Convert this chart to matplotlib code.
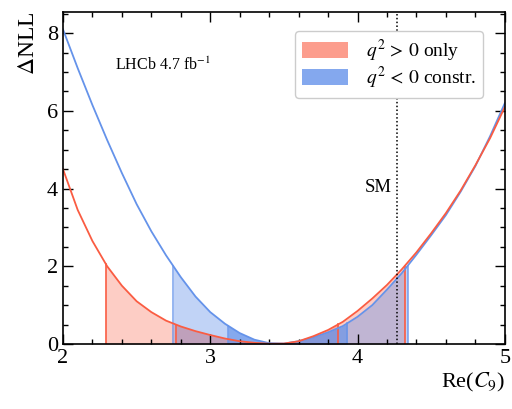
import numpy as np
import matplotlib
matplotlib.use("Agg")
import matplotlib.pyplot as plt
from matplotlib.patches import Patch
from matplotlib.ticker import MultipleLocator

# Re(C9) sample points
c9 = [2.0, 2.1, 2.2, 2.3, 2.4, 2.5, 2.6, 2.7, 2.8, 2.9, 3.0, 3.1, 3.2, 3.3, 3.4,
      3.5, 3.6, 3.7, 3.8, 3.9, 4.0, 4.1, 4.2, 4.3, 4.4, 4.5, 4.6, 4.7, 4.8, 4.9, 5.0]
# Delta NLL, q^2 > 0 only
nll_red = [4.5, 3.45, 2.65, 2.0, 1.5, 1.1, 0.82, 0.6, 0.45, 0.33, 0.23, 0.14, 0.07, 0.03, 0.005,
           0.01, 0.07, 0.2, 0.36, 0.57, 0.85, 1.17, 1.52, 1.92, 2.36, 2.85, 3.37, 3.95, 4.6, 5.3, 6.1]
# Delta NLL, q^2 < 0 constrained
nll_blue = [8.1, 7.1, 6.15, 5.25, 4.4, 3.6, 2.9, 2.28, 1.72, 1.22, 0.82, 0.52, 0.28, 0.11, 0.02,
            0.01, 0.07, 0.17, 0.3, 0.46, 0.7, 1.0, 1.4, 1.82, 2.3, 2.8, 3.32, 3.92, 4.58, 5.35, 6.2]
# interval edges (1 sigma: dNLL<0.5, 2 sigma: dNLL<2)
red_2s = [2.29, 4.32]
red_1s = [2.77, 3.87]
blue_2s = [2.75, 4.34]
blue_1s = [3.12, 3.93]
sm_value = 4.27

labels = [r"$q^2 \,>\, 0$ only", r"$q^2 \,<\, 0$ constr."]
RED = "#fa5c42"
BLUE = "#6593ea"

plt.rcParams["font.family"] = ["Liberation Serif", "DejaVu Serif"]
plt.rcParams["mathtext.fontset"] = "stix"

fig = plt.figure(figsize=(5.12, 4.09), dpi=100)
ax = fig.add_axes([0.123, 0.159, 0.863, 0.812])

x = np.array(c9)

def band(ax, yv, lo, hi, color, alpha, edge_alpha=1.0):
    inner = x[(x > lo) & (x < hi)]
    xs = np.concatenate([[lo], inner, [hi]])
    ys = np.interp(xs, x, yv)
    ax.fill_between(xs, 0, ys, color=color, alpha=alpha, lw=0)
    for e in (lo, hi):
        ax.plot([e, e], [0, np.interp(e, x, yv)], color=color, lw=1.2, alpha=edge_alpha)

band(ax, np.array(nll_red), red_2s[0], red_2s[1], RED, 0.3)
band(ax, np.array(nll_red), red_1s[0], red_1s[1], RED, 0.3)
band(ax, np.array(nll_blue), blue_2s[0], blue_2s[1], BLUE, 0.4, 0.8)
band(ax, np.array(nll_blue), blue_1s[0], blue_1s[1], BLUE, 0.65, 0.8)

ax.plot(x, nll_blue, color=BLUE, lw=1.3)
ax.plot(x, nll_red, color=RED, lw=1.3)

ax.axvline(sm_value, color="black", ls=(0, (1, 1.5)), lw=1.1)
ax.text(4.235, 4.03, "SM", ha="right", va="center", fontsize=13.5)
ax.text(2.35, 7.17, r"LHCb 4.7 fb$^{-1}$", ha="left", va="center", fontsize=11.5)

ax.set_xlim(2, 5)
ax.set_ylim(0, 8.55)
ax.xaxis.set_major_locator(MultipleLocator(1))
ax.xaxis.set_minor_locator(MultipleLocator(0.2))
ax.yaxis.set_major_locator(MultipleLocator(2))
ax.yaxis.set_minor_locator(MultipleLocator(0.5))
ax.tick_params(which="both", direction="in", top=True, right=True, labelsize=16)
ax.tick_params(which="major", length=7, width=1.0)
ax.tick_params(which="minor", length=3.5, width=1.0)
for s in ax.spines.values():
    s.set_linewidth(1.2)

ax.set_xlabel(r"Re($C_9$)", fontsize=16, loc="right", labelpad=2)
ax.set_ylabel(r"$\Delta$NLL", fontsize=17, loc="top", labelpad=6)

handles = [Patch(facecolor=RED, alpha=0.6, edgecolor="none"),
           Patch(facecolor=BLUE, alpha=0.8, edgecolor="none")]
ax.legend(handles, labels, loc="upper right", bbox_to_anchor=(0.950, 0.943),
          borderaxespad=0.0,
          fontsize=14, handlelength=2.4, handleheight=0.9, borderpad=0.35,
          labelspacing=0.05, handletextpad=0.9, fancybox=True, framealpha=1.0)

fig.savefig("out.png", dpi=100)
